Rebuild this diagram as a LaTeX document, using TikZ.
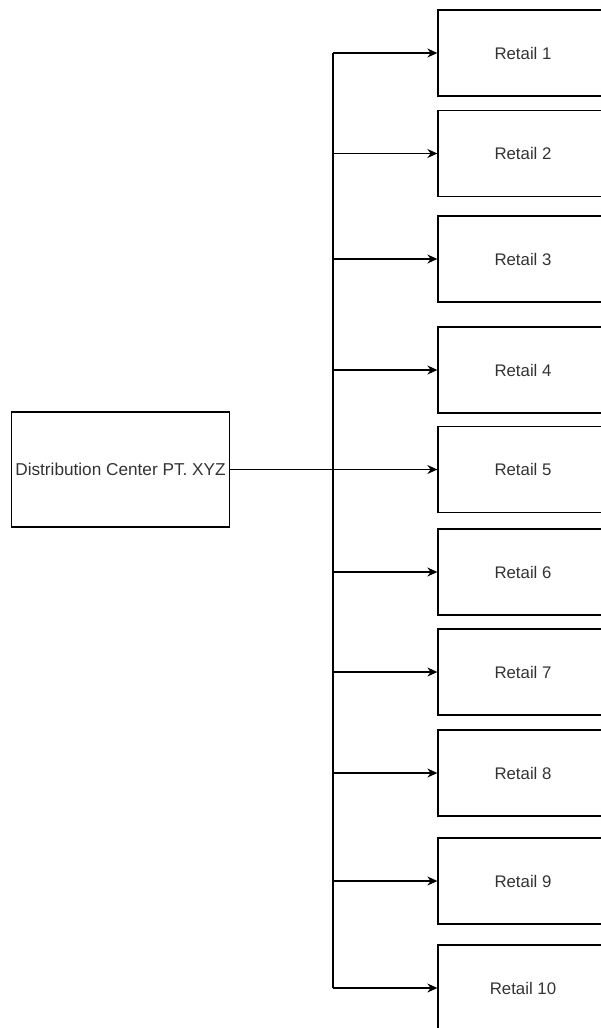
\documentclass[tikz,border=0pt]{standalone}
\usepackage{fontspec}
\setmainfont{Liberation Sans}
\usetikzlibrary{arrows.meta, positioning}
\definecolor{textgray}{HTML}{333333}
\tikzstyle{arrow} = [line width=1.3pt,-{Stealth[length=10pt,width=9pt]}]
\tikzstyle{line} = [line width=1.3pt]
\tikzstyle{center} = [rectangle, minimum width=218pt, minimum height=115pt, inner sep=0pt, text centered, draw=black, line width=1.3pt, text=textgray, font=\fontsize{17.2pt}{19pt}\selectfont]
\tikzstyle{retail} = [rectangle, minimum width=170pt, minimum height=86pt, text centered, draw=black, line width=1.3pt, text=textgray, font=\fontsize{16.8pt}{19pt}\selectfont]

\begin{document}
\begin{tikzpicture}[x=1pt, y=-1pt]

\clip (0,0) rectangle (601,1028);

% Distribution Center
\node (dc) [center] at (120.5,469.5) {Distribution Center PT. XYZ};

% Retail Outlets
\node (r1) [retail] at (523,53) {Retail 1};
\node (r2) [retail] at (523,153.5) {Retail 2};
\node (r3) [retail] at (523,259) {Retail 3};
\node (r4) [retail] at (523,370) {Retail 4};
\node (r5) [retail] at (523,469.5) {Retail 5};
\node (r6) [retail] at (523,572) {Retail 6};
\node (r7) [retail] at (523,672) {Retail 7};
\node (r8) [retail] at (523,773) {Retail 8};
\node (r9) [retail] at (523,881) {Retail 9};
\node (r10) [retail] at (523,988) {Retail 10};

% Trunk points
\coordinate (t1) at (333,53);
\coordinate (t2) at (333,153.5);
\coordinate (t3) at (333,259);
\coordinate (t4) at (333,370);
\coordinate (t6) at (333,572);
\coordinate (t7) at (333,672);
\coordinate (t8) at (333,773);
\coordinate (t9) at (333,881);
\coordinate (t10) at (333,988);

% Arrows
\draw [line] (t1) -- (t10);
\draw [arrow] (dc) -- (r5);
\draw [arrow] (t1) -- (r1);
\draw [arrow] (t2) -- (r2);
\draw [arrow] (t3) -- (r3);
\draw [arrow] (t4) -- (r4);
\draw [arrow] (t6) -- (r6);
\draw [arrow] (t7) -- (r7);
\draw [arrow] (t8) -- (r8);
\draw [arrow] (t9) -- (r9);
\draw [arrow] (t10) -- (r10);

\end{tikzpicture}
\end{document}
